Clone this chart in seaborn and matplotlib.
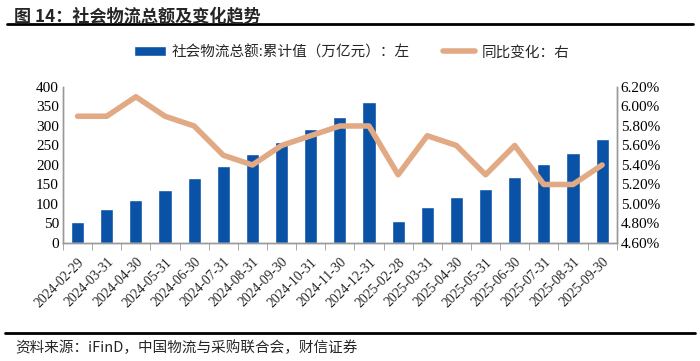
import numpy as np
import pandas as pd
import seaborn as sns
import matplotlib.pyplot as plt
from matplotlib.lines import Line2D
from matplotlib.patches import Patch
from matplotlib.ticker import FuncFormatter, MultipleLocator

dates = ["2024-02-29", "2024-03-31", "2024-04-30", "2024-05-31", "2024-06-30",
         "2024-07-31", "2024-08-31", "2024-09-30", "2024-10-31", "2024-11-30",
         "2024-12-31", "2025-02-28", "2025-03-31", "2025-04-30", "2025-05-31",
         "2025-06-30", "2025-07-31", "2025-08-31", "2025-09-30"]
total = [53, 88, 110, 135, 167, 198, 228, 258, 291, 323, 362,
         57, 92, 117, 139, 170, 202, 231, 266]
growth = [5.9, 5.9, 6.1, 5.9, 5.8, 5.5, 5.4, 5.6, 5.7, 5.8, 5.8,
          5.3, 5.7, 5.6, 5.3, 5.6, 5.2, 5.2, 5.4]

bar_label = "社会物流总额:累计值（万亿元）：左"
line_label = "同比变化：右"

bar_color = "#0a52a6"
line_color = "#e2aa84"
cjk = ["Noto Sans CJK SC", "DejaVu Sans"]
serif = ["Liberation Serif", "DejaVu Serif"]

sns.set_style("white")
plt.rcParams["font.family"] = serif

df = pd.DataFrame({"date": dates, "total": total, "growth": growth})

fig = plt.figure(figsize=(7, 3.61), dpi=100)
ax = fig.add_axes([0.09, 0.327, 0.791, 0.432])
sns.barplot(data=df, x="date", y="total", color=bar_color, width=0.45,
            saturation=1, ax=ax)
ax.set_xlim(-0.5, len(dates) - 0.5)
ax.set_ylim(0, 400)
ax.yaxis.set_major_locator(MultipleLocator(50))
ax.set_xlabel("")
ax.set_ylabel("")

ax2 = ax.twinx()
sns.lineplot(x=np.arange(len(dates)), y=growth, color=line_color, linewidth=4,
             ax=ax2)
ax2.set_ylim(4.6, 6.2)
ax2.yaxis.set_major_locator(MultipleLocator(0.2))
ax2.yaxis.set_major_formatter(FuncFormatter(lambda v, p: f"{v:.2f}%"))

for a in (ax, ax2):
    for s in a.spines.values():
        s.set_color("#999999")
        s.set_linewidth(1)
    a.spines["top"].set_visible(False)
    a.tick_params(axis="y", length=0, labelsize=11, pad=3, colors="black")

# ticks on category boundaries
ax.set_xticks(np.arange(len(dates)))
ax.set_xticklabels(dates, rotation=45, ha="right", rotation_mode="anchor",
                   fontsize=9.8)
ax.set_xticks(np.arange(len(dates) + 1) - 0.5, minor=True)
ax.tick_params(axis="x", which="major", length=0, pad=9)
ax.tick_params(axis="x", which="minor", length=5, color="#999999",
               direction="out", bottom=True)

handles = [Patch(facecolor=bar_color, label=bar_label),
           Line2D([0], [0], color=line_color, lw=4, label=line_label)]
fig.legend(handles=handles, loc="center", bbox_to_anchor=(0.502, 0.855),
           ncol=2, frameon=False, prop={"family": cjk, "size": 10.5},
           handlelength=2.2, columnspacing=2.3, handletextpad=0.4)

fig.text(0.02, 0.953, "图 14：社会物流总额及变化趋势", fontsize=12.3,
         fontweight="bold", family=cjk, va="center")
fig.add_artist(Line2D([0.01, 0.99], [0.933, 0.933], color="black", lw=2))
fig.add_artist(Line2D([0.007, 0.993], [0.078, 0.078], color="black", lw=2))
fig.text(0.022, 0.038, "资料来源：iFinD，中国物流与采购联合会，财信证券",
         fontsize=10.5, style="italic", family=cjk, va="center")

fig.savefig("out.png", dpi=100)
